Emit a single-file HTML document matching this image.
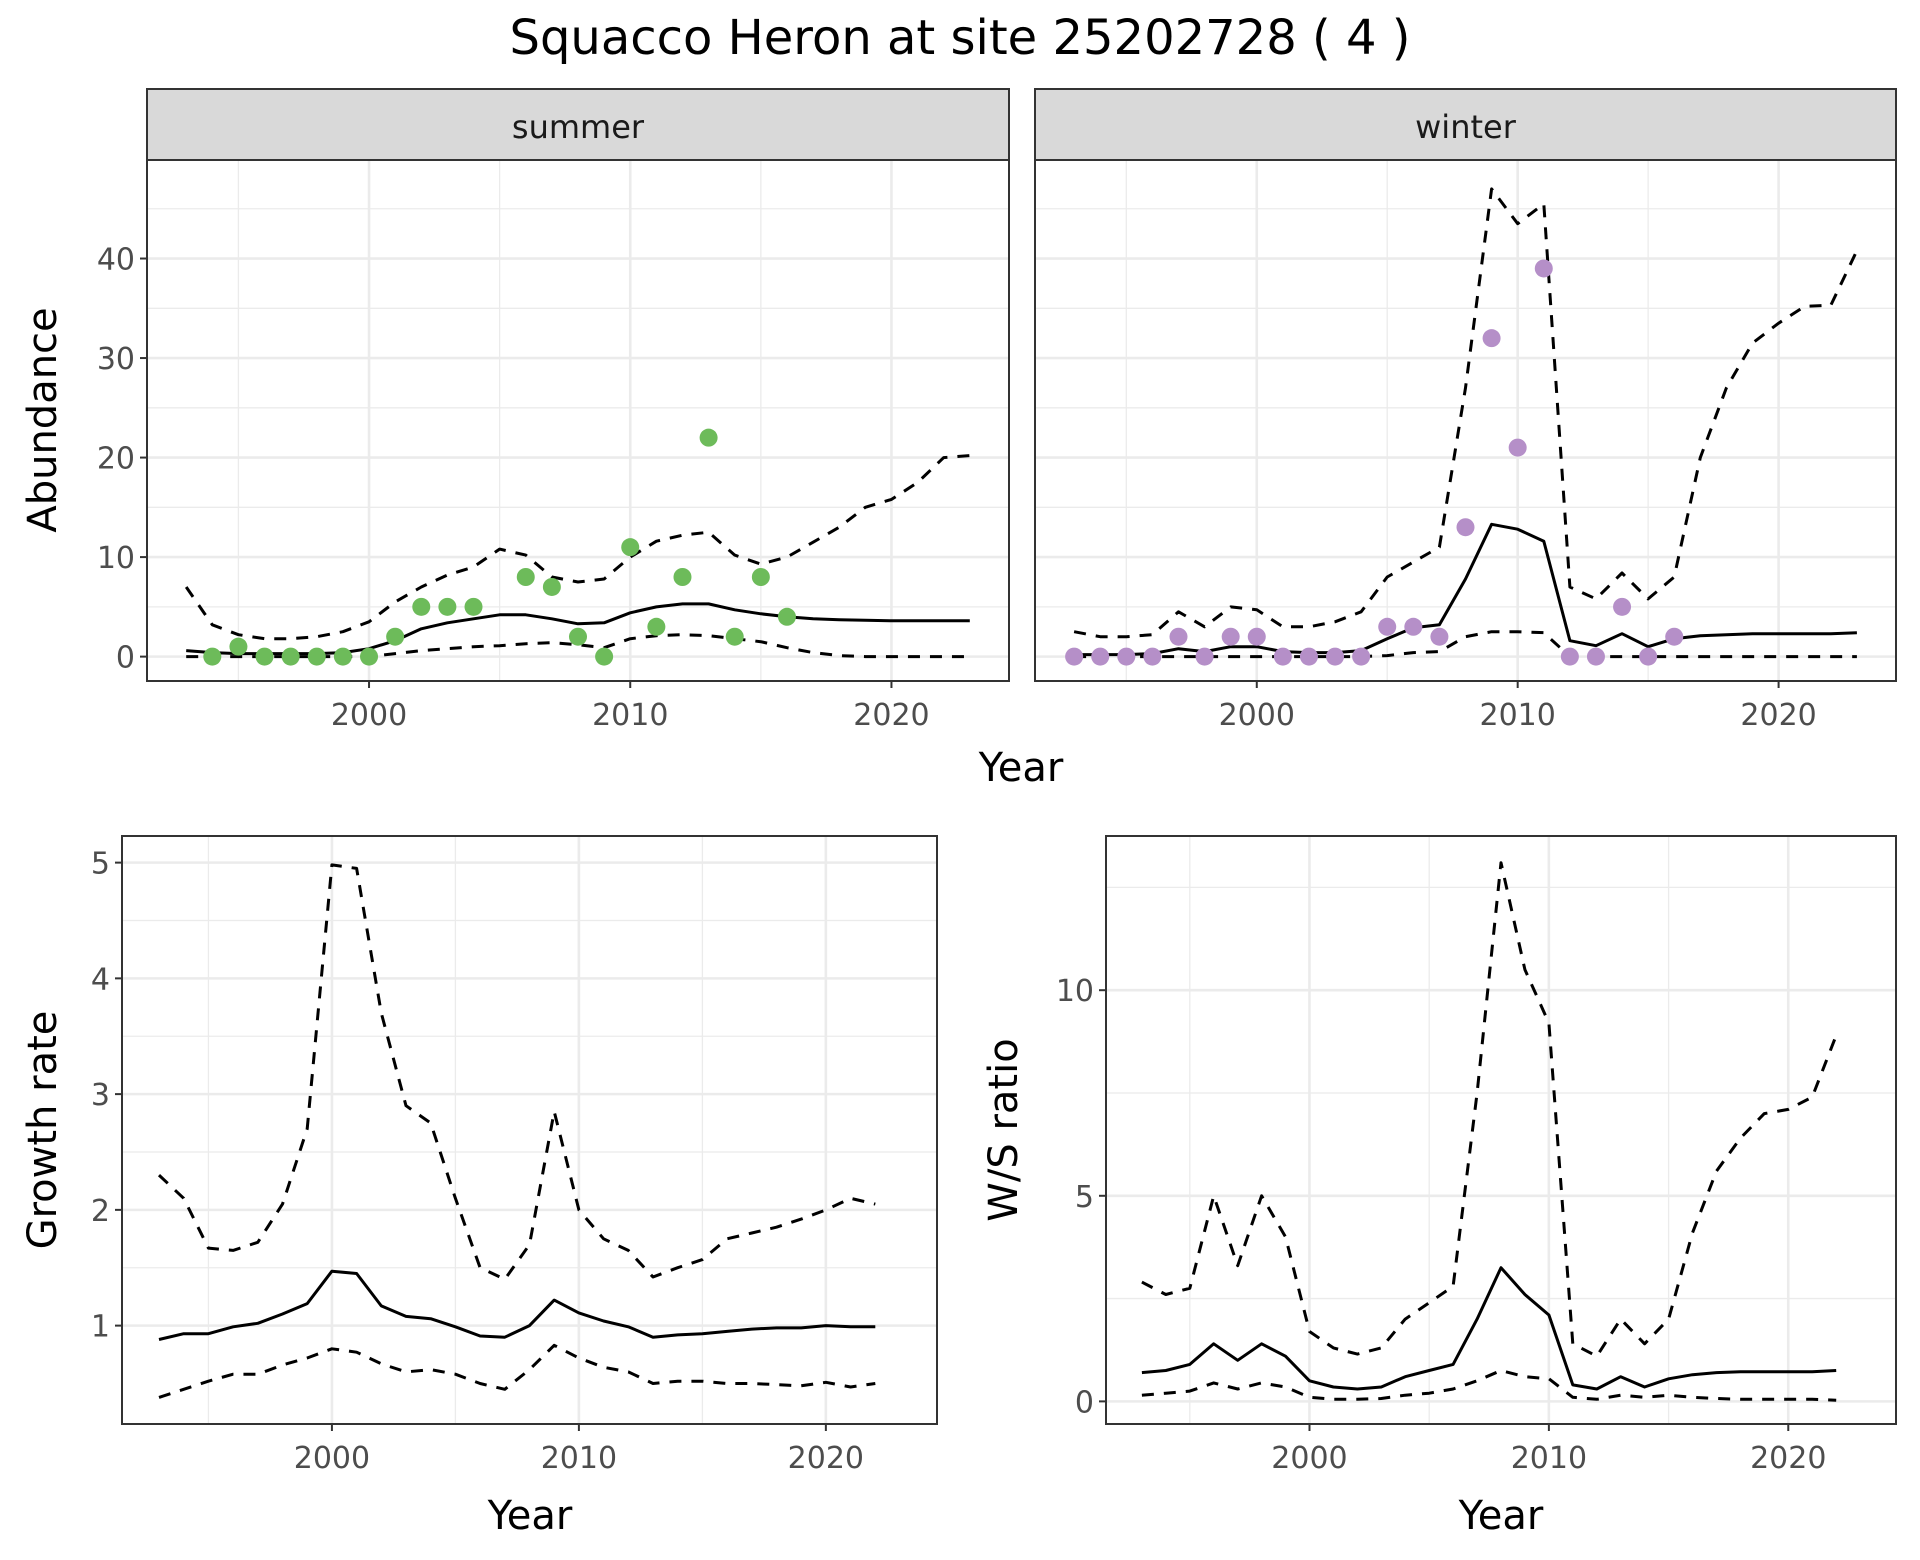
<!DOCTYPE html>
<html><head><meta charset="utf-8"><style>
html,body{margin:0;padding:0;background:#fff;}
svg{display:block;font-family:"DejaVu Sans","Liberation Sans",sans-serif;}
</style></head><body>
<svg id="chart" width="1920" height="1560" xmlns="http://www.w3.org/2000/svg">
<text x="960" y="54" text-anchor="middle" font-size="48" fill="#000">Squacco Heron at site 25202728 ( 4 )</text>
</svg>
<script>
const yearsA = [1993,1994,1995,1996,1997,1998,1999,2000,2001,2002,2003,2004,2005,2006,2007,2008,2009,2010,2011,2012,2013,2014,2015,2016,2017,2018,2019,2020,2021,2022,2023];
const summerMean = [0.6,0.4,0.3,0.3,0.3,0.3,0.4,0.8,1.6,2.8,3.4,3.8,4.2,4.2,3.8,3.3,3.4,4.4,5.0,5.3,5.3,4.7,4.3,4.0,3.8,3.7,3.65,3.6,3.6,3.6,3.6];
const summerUpper = [7,3.2,2.2,1.8,1.8,2.0,2.5,3.5,5.5,7,8.2,9,10.8,10.2,8,7.5,7.8,10,11.6,12.2,12.5,10.2,9.3,10,11.5,13,15,15.8,17.5,20,20.2];
const summerLower = [0,0,0,0,0,0,0,0,0.3,0.6,0.8,1.0,1.1,1.3,1.4,1.2,0.9,1.8,2.1,2.2,2.1,1.8,1.5,0.9,0.4,0.1,0,0,0,0,0];
const summerPtYears = [1994,1995,1996,1997,1998,1999,2000,2001,2002,2003,2004,2006,2007,2008,2009,2010,2011,2012,2013,2014,2015,2016];
const summerPtVals = [0,1,0,0,0,0,0,2,5,5,5,8,7,2,0,11,3,8,22,2,8,4];
const winterMean = [0.2,0.2,0.2,0.3,0.8,0.5,1.0,1.0,0.5,0.4,0.4,0.6,1.8,2.9,3.2,7.8,13.3,12.8,11.6,1.6,1.1,2.3,1.0,1.8,2.1,2.2,2.3,2.3,2.3,2.3,2.4];
const winterUpper = [2.5,2.0,2.0,2.2,4.5,3.0,5.0,4.7,3.0,3.0,3.5,4.5,8,9.5,11,27,47,43.5,45.5,7,5.8,8.4,5.8,8,20,27,31.5,33.5,35.2,35.3,40.8];
const winterLower = [0,0,0,0,0,0,0,0,0,0,0,0,0.1,0.4,0.5,2,2.5,2.5,2.4,0,0,0,0,0,0,0,0,0,0,0,0];
const winterPtYears = [1993,1994,1995,1996,1997,1998,1999,2000,2001,2002,2003,2004,2005,2006,2007,2008,2009,2010,2011,2012,2013,2014,2015,2016];
const winterPtVals = [0,0,0,0,2,0,2,2,0,0,0,0,3,3,2,13,32,21,39,0,0,5,0,2];
const yearsB = [1993,1994,1995,1996,1997,1998,1999,2000,2001,2002,2003,2004,2005,2006,2007,2008,2009,2010,2011,2012,2013,2014,2015,2016,2017,2018,2019,2020,2021,2022];
const growthMean = [0.88,0.93,0.93,0.99,1.02,1.10,1.19,1.47,1.45,1.17,1.08,1.06,0.99,0.91,0.90,1.00,1.22,1.11,1.04,0.99,0.90,0.92,0.93,0.95,0.97,0.98,0.98,1.00,0.99,0.99];
const growthUpper = [2.3,2.1,1.67,1.65,1.72,2.05,2.7,4.98,4.95,3.7,2.9,2.75,2.1,1.5,1.4,1.7,2.85,2.0,1.75,1.65,1.42,1.5,1.57,1.75,1.8,1.85,1.92,2.0,2.1,2.05];
const growthLower = [0.38,0.45,0.52,0.58,0.58,0.66,0.72,0.8,0.77,0.67,0.6,0.62,0.58,0.5,0.45,0.62,0.83,0.72,0.64,0.6,0.5,0.52,0.52,0.5,0.5,0.49,0.48,0.51,0.47,0.5];
const wsMean = [0.7,0.75,0.9,1.4,1.0,1.4,1.1,0.5,0.35,0.3,0.35,0.6,0.75,0.9,2.0,3.25,2.6,2.1,0.4,0.3,0.6,0.35,0.55,0.65,0.7,0.72,0.72,0.72,0.72,0.75];
const wsUpper = [2.9,2.6,2.75,5.0,3.3,5.0,4.0,1.7,1.3,1.15,1.3,2.0,2.4,2.8,7.5,13.1,10.5,9.2,1.4,1.1,2.0,1.4,2.0,4.1,5.6,6.4,7.0,7.1,7.4,8.9];
const wsLower = [0.15,0.2,0.25,0.45,0.3,0.45,0.35,0.1,0.05,0.05,0.07,0.15,0.2,0.3,0.5,0.75,0.6,0.55,0.1,0.05,0.15,0.1,0.15,0.1,0.07,0.05,0.05,0.05,0.05,0.03];
const xTicks = [2000,2010,2020];
const xMinor = [1995,2005,2015];
const abTicks = [0,10,20,30,40];
const abMinor = [5,15,25,35,45];
const grTicks = [1,2,3,4,5];
const grMinor = [1.5,2.5,3.5,4.5];
const wsTicks = [0,5,10];
const wsMinor = [2.5,7.5,12.5];

const NS = "http://www.w3.org/2000/svg";
const svg = document.getElementById('chart');
function mk(tag, attrs, parent){
  const e = document.createElementNS(NS, tag);
  for (const k in attrs) e.setAttribute(k, attrs[k]);
  (parent||svg).appendChild(e);
  return e;
}
function panel(cfg){
  const g = mk('g', {});
  
  
  const {x0,x1,y0,y1,xd,yd} = cfg;
  const sx = v => x0 + (v - xd[0]) / (xd[1]-xd[0]) * (x1-x0);
  const sy = v => y1 - (v - yd[0]) / (yd[1]-yd[0]) * (y1-y0);
  xMinor.forEach(v=>{ const X=sx(v); if(X>x0&&X<x1){ const l=mk('line',{x1:X,x2:X,y1:y0,y2:y1,stroke:'#ebebeb','stroke-width':1.3},g);   }});
  cfg.yMinor.forEach(v=>{ const Y=sy(v); if(Y>y0&&Y<y1){ const l=mk('line',{x1:x0,x2:x1,y1:Y,y2:Y,stroke:'#ebebeb','stroke-width':1.3},g);   }});
  xTicks.forEach(v=>{ const X=sx(v); const l=mk('line',{x1:X,x2:X,y1:y0,y2:y1,stroke:'#ebebeb','stroke-width':2.6},g);  
    const t=mk('line',{x1:X,x2:X,y1:y1,y2:y1+7,stroke:'#333','stroke-width':2},g);  
    const tx=mk('text',{x:X,y:y1+44,'text-anchor':'middle','font-size':30,fill:'#4d4d4d'},g); tx.textContent=v;   });
  cfg.yTicks.forEach(v=>{ const Y=sy(v); const l=mk('line',{x1:x0,x2:x1,y1:Y,y2:Y,stroke:'#ebebeb','stroke-width':2.6},g);  
    if(cfg.yLabels){ const t=mk('line',{x1:x0-7,x2:x0,y1:Y,y2:Y,stroke:'#333','stroke-width':2},g);  
    const tx=mk('text',{x:x0-12,y:Y+11,'text-anchor':'end','font-size':30,fill:'#4d4d4d'},g); tx.textContent=v;   } });
  const line = (ys, xs, dash, nm) => {
    const d = xs.map((yr,i)=>(i?'L':'M')+sx(yr).toFixed(1)+','+sy(ys[i]).toFixed(1)).join(' ');
    const p = mk('path',{d, fill:'none', stroke:'#000','stroke-width':3,'stroke-dasharray':dash?'12,10':'none','stroke-linejoin':'round'},g);
     
  };
  line(cfg.upper, cfg.xs, true, 'upper-ci-line');
  line(cfg.lower, cfg.xs, true, 'lower-ci-line');
  line(cfg.mean, cfg.xs, false, 'mean-line');
  if (cfg.ptX) cfg.ptX.forEach((yr,i)=>{ const c=mk('circle',{cx:sx(yr),cy:sy(cfg.ptY[i]),r:9,fill:cfg.ptColor},g);   });
  const b = mk('rect',{x:x0,y:y0,width:x1-x0,height:y1-y0,fill:'none',stroke:'#333','stroke-width':2},g);
   
  if (cfg.strip){
    const s=mk('rect',{x:x0,y:89,width:x1-x0,height:y0-89,fill:'#d9d9d9',stroke:'#333','stroke-width':2},g);
     
    const st=mk('text',{x:(x0+x1)/2,y:138,'text-anchor':'middle','font-size':32,fill:'#1a1a1a'},g); st.textContent=cfg.strip;
     
  }
}
const absDom=[-2.45,49.9];
panel({name:'summer-panel',x0:147,x1:1009,y0:160,y1:681,xd:[1991.5,2024.5],yd:absDom,yTicks:abTicks,yMinor:abMinor,yLabels:true,xs:yearsA,mean:summerMean,upper:summerUpper,lower:summerLower,ptX:summerPtYears,ptY:summerPtVals,ptColor:'#6dbb5a',strip:'summer'});
panel({name:'winter-panel',x0:1035,x1:1896,y0:160,y1:681,xd:[1991.5,2024.5],yd:absDom,yTicks:abTicks,yMinor:abMinor,yLabels:false,xs:yearsA,mean:winterMean,upper:winterUpper,lower:winterLower,ptX:winterPtYears,ptY:winterPtVals,ptColor:'#b58fc8',strip:'winter'});
panel({name:'growth-rate-panel',x0:122,x1:937,y0:836,y1:1424,xd:[1991.5,2024.5],yd:[0.15,5.23],yTicks:grTicks,yMinor:grMinor,yLabels:true,xs:yearsB,mean:growthMean,upper:growthUpper,lower:growthLower});
panel({name:'ws-ratio-panel',x0:1106,x1:1896,y0:836,y1:1424,xd:[1991.5,2024.5],yd:[-0.55,13.75],yTicks:wsTicks,yMinor:wsMinor,yLabels:true,xs:yearsB,mean:wsMean,upper:wsUpper,lower:wsLower});

function label(txt,x,y,rot,nm){
  const t=mk('text',{x,y,'text-anchor':'middle','font-size':40,fill:'#000'});
  if(rot) t.setAttribute('transform','rotate(-90 '+x+' '+y+')');
  t.textContent=txt;
   
}
label('Year',1021,781,false,'top-x-axis-title');
label('Abundance',56,420,true,'abundance-y-axis-title');
label('Year',530,1529,false,'growth-x-axis-title');
label('Year',1501,1529,false,'ws-x-axis-title');
label('Growth rate',56,1130,true,'growth-y-axis-title');
label('W/S ratio',1017,1130,true,'ws-y-axis-title');
</script>
</body></html>
